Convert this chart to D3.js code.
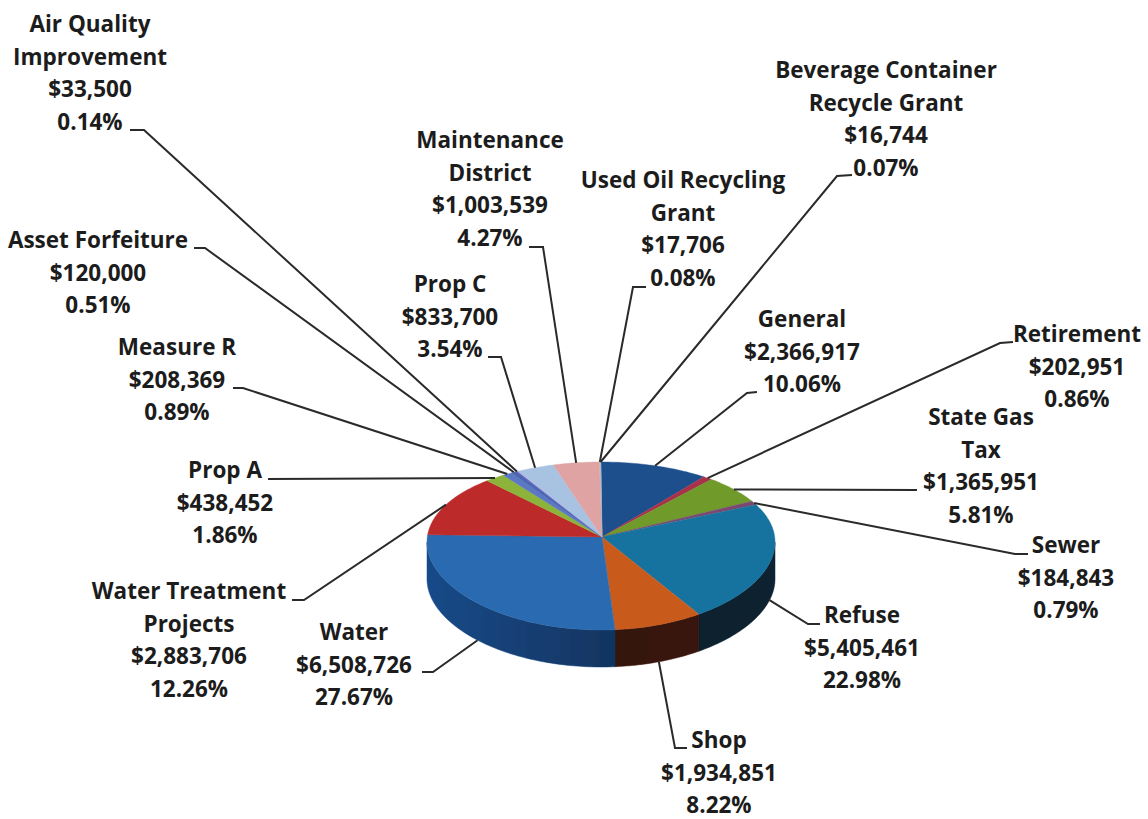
<!DOCTYPE html>
<html>
<head>
<meta charset="utf-8">
<script src="https://cdn.jsdelivr.net/npm/d3@7"></script>
<style>
  html, body { margin: 0; padding: 0; background: #fff; overflow: hidden; }
  text { font-family: "Open Sans", Lato, sans-serif; font-weight: 700; font-size: 22.5px; fill: #1c1c1c; text-anchor: middle; }
</style>
</head>
<body>
<div id="chart"></div>
<script>
// Values, in clockwise order from 12 o'clock
var categories = [
  ['General'], ['Retirement'], ['State Gas', 'Tax'], ['Sewer'], ['Refuse'], ['Shop'], ['Water'],
  ['Water Treatment', 'Projects'], ['Prop A'], ['Measure R'], ['Asset Forfeiture'],
  ['Air Quality', 'Improvement'], ['Prop C'], ['Maintenance', 'District'],
  ['Used Oil Recycling', 'Grant'], ['Beverage Container', 'Recycle Grant']
];
var amounts = [2366917, 202951, 1365951, 184843, 5405461, 1934851, 6508726, 2883706,
  438452, 208369, 120000, 33500, 833700, 1003539, 17706, 16744];
var percents = ['10.06%', '0.86%', '5.81%', '0.79%', '22.98%', '8.22%', '27.67%', '12.26%',
  '1.86%', '0.89%', '0.51%', '0.14%', '3.54%', '4.27%', '0.08%', '0.07%'];

// Styles
var topColors = ['#1b4f8c', '#a8324a', '#6f9a2c', '#7a4a70', '#17739f', '#c85a1e', '#2a6bb0', '#bd2b2c',
  '#8cb43a', '#5b78c4', '#4a68b0', '#6a50c4', '#a8c2e2', '#dfa3a3', '#d8b0a0', '#a0b8d8'];
var sideColors = ['#10305a', '#6a1f2e', '#45601a', '#4a2e46', '#0e2b3d', '#4c1f10', '#184a88', '#761a1a',
  '#586f24', '#384b7a', '#2e416e', '#42327a', '#68788c', '#8a6565', '#867062', '#637286'];

// Label layout: text centre, first baseline, leader start and elbow
var labelLayout = [
  { x: 802, y: 327, lx: 757, ly: 392, ex: 747, ey: 393 },
  { x: 1077, y: 342, lx: 1013, ly: 342, ex: 1000, ey: 343 },
  { x: 981, y: 425, lx: 917, ly: 490, ex: 917, ey: 490 },
  { x: 1066, y: 553, lx: 1028, ly: 554, ex: 1015, ey: 554 },
  { x: 862, y: 623, lx: 820, ly: 624, ex: 808, ey: 624 },
  { x: 719, y: 748, lx: 687, ly: 748, ex: 675, ey: 748 },
  { x: 354, y: 640, lx: 422, ly: 672, ex: 433, ey: 672 },
  { x: 189, y: 599, lx: 292, ly: 600, ex: 304, ey: 600 },
  { x: 225, y: 478, lx: 268, ly: 479, ex: 268, ey: 479 },
  { x: 177, y: 355, lx: 233, ly: 388, ex: 243, ey: 388 },
  { x: 98, y: 248, lx: 194, ly: 248, ex: 205, ey: 248 },
  { x: 90, y: 32, lx: 130, ly: 130, ex: 144, ey: 130 },
  { x: 450, y: 292, lx: 488, ly: 357, ex: 501, ey: 357 },
  { x: 490, y: 148, lx: 529, ly: 247, ex: 543, ey: 247 },
  { x: 683, y: 188, lx: 646, ly: 287, ex: 633, ey: 287 },
  { x: 886, y: 78, lx: 852, ly: 175, ex: 837, ey: 176 }
];

var width = 1148, height = 819;
var lineHeight = 32.5;
var pieDepth = 37;
var centerX = 601, centerY = 542, radiusX = 174, radiusY = 84, perspective = 4;

var svg = d3.select('#chart').append('svg')
  .attr('width', width)
  .attr('height', height);

var defs = svg.append('defs');
var shade = defs.append('linearGradient').attr('id', 'side-shade');
shade.append('stop').attr('offset', '0%').attr('stop-color', '#000').attr('stop-opacity', 0);
shade.append('stop').attr('offset', '55%').attr('stop-color', '#000').attr('stop-opacity', 0.3);
shade.append('stop').attr('offset', '100%').attr('stop-color', '#000').attr('stop-opacity', 0.22);
defs.append('filter').attr('id', 'soft')
  .append('feGaussianBlur').attr('stdDeviation', 0.6);

var pie = d3.pie().sort(null).value(d => d);
var slices = pie(amounts);

// tilted, slightly perspective disc: a = clockwise angle from 12 o'clock
function project(a, depth) {
  var v = -Math.cos(a);
  return [
    centerX + radiusX * Math.sin(a),
    centerY + radiusY * v + perspective * v * v + (depth || 0)
  ];
}

function arcPoints(a0, a1, depth) {
  var n = Math.max(2, Math.ceil(Math.abs(a1 - a0) / 0.02));
  return d3.range(n + 1).map(i => project(a0 + (a1 - a0) * i / n, depth));
}

var line = d3.line();
var pieLayer = svg.append('g').attr('class', 'pie').attr('filter', 'url(#soft)');

// side wall, only the front half of the disc shows
var frontStart = Math.PI / 2, frontEnd = Math.PI * 1.5;
var walls = slices.filter(d => d.endAngle > frontStart && d.startAngle < frontEnd);
function wallPath(a0, a1) {
  return line(arcPoints(a0, a1, 0).concat(arcPoints(a1, a0, pieDepth))) + 'Z';
}
pieLayer.selectAll('.wall').data(walls).enter().append('path')
  .attr('class', 'wall')
  .attr('fill', d => sideColors[d.index])
  .attr('stroke', d => sideColors[d.index])
  .attr('stroke-width', 0.5)
  .attr('d', d => wallPath(Math.max(d.startAngle, frontStart), Math.min(d.endAngle, frontEnd)));
pieLayer.append('path')
  .attr('class', 'wall-overlay')
  .attr('fill', 'url(#side-shade)')
  .attr('d', wallPath(frontStart, frontEnd));

// top face; the apex sits a little above the disc centre
var apex = [centerX + 1, centerY - 5];
pieLayer.selectAll('.slice').data(slices).enter().append('path')
  .attr('class', 'slice')
  .attr('fill', d => topColors[d.index])
  .attr('stroke', d => topColors[d.index])
  .attr('stroke-width', 0.4)
  .attr('d', d => line([apex].concat(arcPoints(d.startAngle, d.endAngle, 0))) + 'Z');

// leaders run from the label to the outer edge at the slice's mid angle
function anchor(d) {
  var mid = (d.startAngle + d.endAngle) / 2;
  return project(mid, -Math.cos(mid) > 0 ? pieDepth : 0);
}
svg.append('g').selectAll('.leader').data(slices).enter().append('path')
  .attr('class', 'leader')
  .attr('fill', 'none')
  .attr('stroke', '#2a2a2a')
  .attr('stroke-width', 2)
  .attr('d', d => {
    var l = labelLayout[d.index];
    return line([[l.lx, l.ly], [l.ex, l.ey], anchor(d)]);
  });

var money = d3.format('$,');
var labels = svg.append('g').selectAll('.label').data(slices).enter().append('text')
  .attr('class', 'label');
labels.selectAll('tspan')
  .data(d => categories[d.index].concat([money(amounts[d.index]), percents[d.index]])
    .map((t, i) => ({ t: t, i: i, l: labelLayout[d.index] })))
  .enter().append('tspan')
  .attr('x', d => d.l.x)
  .attr('y', d => d.l.y + d.i * lineHeight)
  .text(d => d.t);
</script>
</body>
</html>
